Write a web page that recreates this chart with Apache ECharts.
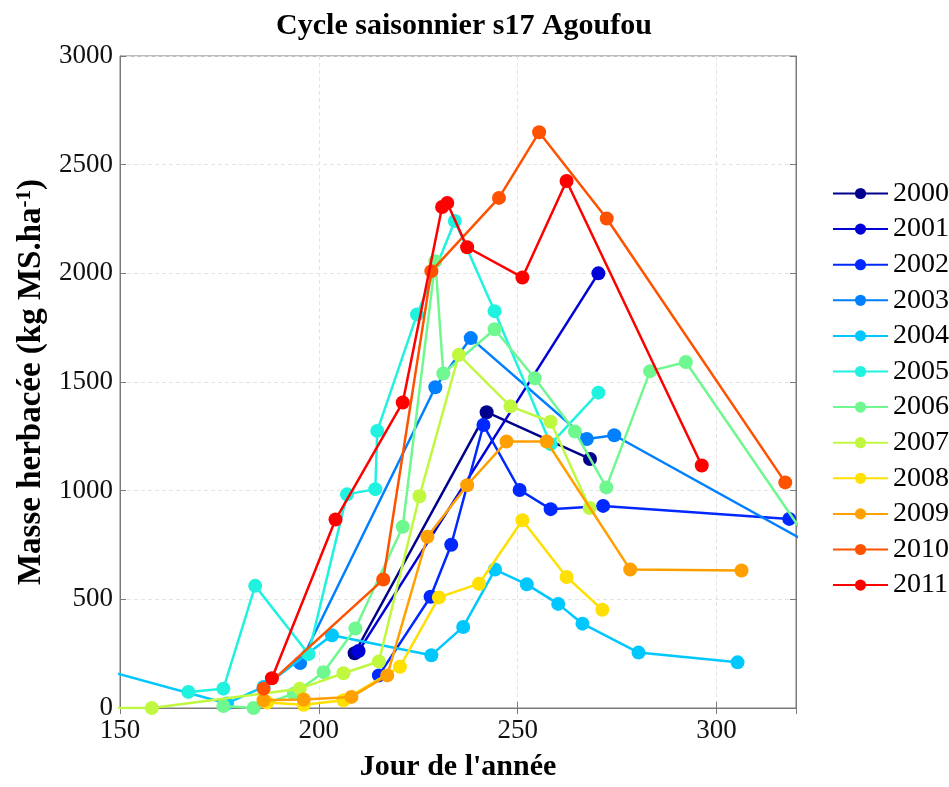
<!DOCTYPE html>
<html><head><meta charset="utf-8">
<script src="https://cdn.jsdelivr.net/npm/echarts@6/dist/echarts.min.js"></script>
<style>html,body{margin:0;padding:0;background:#fff}#c{width:949px;height:787px}</style>
</head><body><div id="c"></div>
<script>
const years = ['2000','2001','2002','2003','2004','2005','2006','2007','2008','2009','2010','2011'];
const colors = ['#00008C','#0000D8','#0028FF','#0080FF','#00C8FF','#20F2E0','#70F890','#C0F840','#FFE000','#FFA000','#FF5200','#FF0000'];
const xTicks = [150, 200, 250, 300];
const yTicks = [0, 500, 1000, 1500, 2000, 2500, 3000];

const days2000 = [209, 242.2, 268.2];
const vals2000 = [252, 1361, 1146];
const days2001 = [210, 270.3];
const vals2001 = [262, 2000];
const days2002 = [215.1, 228.1, 233.3, 241.4, 250.5, 258.3, 271.5, 318.3];
const vals2002 = [150, 512, 751, 1302, 1003, 915, 930, 870];
const days2003 = [195.3, 229.3, 238.2, 267.4, 274.3, 330];
const vals2003 = [207, 1476, 1702, 1238, 1255, 690];
const days2004 = [140, 176.9, 186.1, 203.3, 228.3, 236.3, 244.3, 252.3, 260.2, 266.3, 280.4, 305.3];
const vals2004 = [205, 21, 97, 335, 243, 373, 637, 569, 479, 388, 255, 210];
const days2005 = [167.2, 176, 184, 197.4, 207.1, 214.2, 214.7, 224.7, 234.2, 244.2, 258.3, 270.3];
const vals2005 = [74, 89, 562, 248, 983, 1007, 1275, 1811, 2241, 1826, 1214, 1451];
const days2006 = [176, 183.6, 193.7, 201.2, 209.2, 221.1, 229.3, 231.3, 244.2, 254.3, 264.4, 272.3, 283.3, 292.3, 322];
const vals2006 = [9, 0, 66, 165, 366, 834, 2056, 1539, 1743, 1517, 1272, 1015, 1550, 1592, 800];
const days2007 = [140, 158, 195.2, 206.2, 215.1, 225.3, 235.2, 248.2, 258.3, 268.1];
const vals2007 = [0, 0, 89, 160, 214, 974, 1625, 1388, 1317, 920];
const days2008 = [187, 196.2, 206.2, 220.4, 230.2, 240.3, 251.2, 262.3, 271.3];
const vals2008 = [25, 15, 36, 190, 509, 572, 864, 603, 452];
const days2009 = [186.1, 196.2, 208.2, 217.2, 227.3, 237.3, 247.2, 257.3, 278.3, 306.3];
const vals2009 = [36, 39, 51, 150, 788, 1025, 1226, 1226, 637, 633];
const days2010 = [186.1, 216.2, 228.3, 245.3, 255.4, 272.4, 317.3];
const vals2010 = [89, 591, 2010, 2347, 2649, 2252, 1038];
const days2011 = [188.2, 204.2, 221.1, 231, 232.3, 237.3, 251.2, 262.3, 296.3];
const vals2011 = [137, 867, 1406, 2305, 2324, 2120, 1981, 2425, 1116];

const allDays = [days2000,days2001,days2002,days2003,days2004,days2005,days2006,days2007,days2008,days2009,days2010,days2011];
const allVals = [vals2000,vals2001,vals2002,vals2003,vals2004,vals2005,vals2006,vals2007,vals2008,vals2009,vals2010,vals2011];

const FONT = 'Liberation Serif';
const axisGray = '#7a7a7a';

const series = years.map((y, i) => ({
  name: y,
  type: 'line',
  data: allDays[i].map((d, k) => [d, allVals[i][k]]),
  symbol: 'circle',
  symbolSize: 14,
  clip: true,
  lineStyle: { color: colors[i], width: 2.5 },
  itemStyle: { color: colors[i] },
  emphasis: { disabled: true },
  z: 2 + i
}));

const chart = echarts.init(document.getElementById('c'), null, { renderer: 'canvas' });
chart.setOption({
  animation: false,
  backgroundColor: '#fff',
  title: {
    text: 'Cycle saisonnier s17 Agoufou',
    left: 459, top: 6, textAlign: 'center',
    textStyle: { fontFamily: FONT, fontWeight: 'bold', fontSize: 30, color: '#000' }
  },
  legend: {
    orient: 'vertical',
    left: 827, top: 174.5,
    itemWidth: 55, itemHeight: 14,
    itemGap: 7.6,
    data: years,
    textStyle: { fontFamily: FONT, fontSize: 28, color: '#000', lineHeight: 28 },
    selectedMode: false
  },
  grid: { left: 120, right: 153, top: 56, bottom: 69, show: true, borderColor: axisGray, borderWidth: 1 },
  xAxis: [{
    type: 'value', min: 150, max: 320, interval: 50,
    name: "Jour de l'année", nameLocation: 'middle', nameGap: 44,
    nameTextStyle: { fontFamily: FONT, fontWeight: 'bold', fontSize: 30, color: '#000' },
    axisLine: { show: true, lineStyle: { color: axisGray, width: 1 } },
    axisTick: { show: true, inside: true, length: 6, lineStyle: { color: axisGray } },
    axisLabel: { showMaxLabel: false, margin: 9, fontFamily: FONT, fontSize: 27, color: '#111', formatter: v => String(v) },
    splitLine: { show: true, lineStyle: { color: '#e4e4e4', width: 1, type: [4, 3] } }
  }, {
    type: 'value', min: 150, max: 320, interval: 50, position: 'top',
    axisLine: { show: true, lineStyle: { color: axisGray } },
    axisTick: { show: true, inside: true, length: 6, lineStyle: { color: axisGray } },
    axisLabel: { show: false }, splitLine: { show: false }
  }],
  yAxis: [{
    type: 'value', min: 0, max: 3000, interval: 500,
    name: 'Masse herbacée (kg MS.ha{sup|-1})', nameLocation: 'middle', nameGap: 70,
    nameTextStyle: {
      fontFamily: FONT, fontWeight: 'bold', fontSize: 33, color: '#000',
      rich: { sup: { fontFamily: FONT, fontWeight: 'bold', fontSize: 21, verticalAlign: 'top', padding: [0, 0, 15, 0] } }
    },
    axisLine: { show: true, lineStyle: { color: axisGray, width: 1 } },
    axisTick: { show: true, inside: true, length: 6, lineStyle: { color: axisGray } },
    axisLabel: { margin: 7, fontFamily: FONT, fontSize: 27, color: '#111', formatter: v => String(v) },
    splitLine: { show: true, lineStyle: { color: '#e4e4e4', width: 1, type: [4, 3] } }
  }, {
    type: 'value', min: 0, max: 3000, interval: 500, position: 'right',
    axisLine: { show: true, lineStyle: { color: axisGray } },
    axisTick: { show: true, inside: true, length: 6, lineStyle: { color: axisGray } },
    axisLabel: { show: false }, splitLine: { show: false }
  }],
  series: series
});
</script>
</body></html>
